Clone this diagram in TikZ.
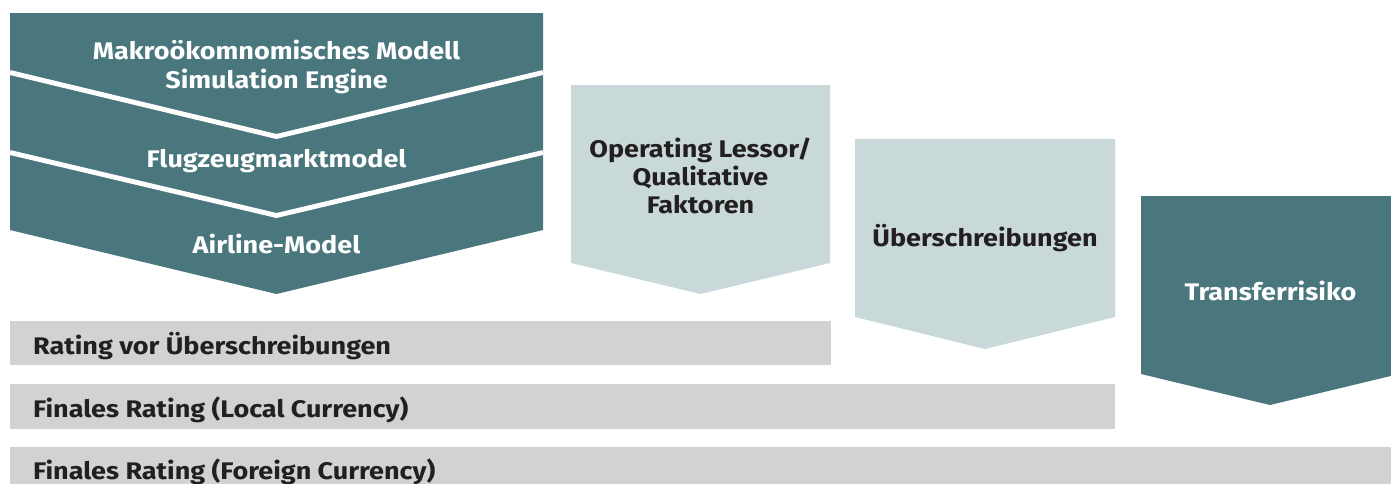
\documentclass[tikz,border=0pt]{standalone}
\usepackage{fontspec}
\setmainfont[FakeStretch=1.125]{Fira Sans}
\begin{document}
\begin{tikzpicture}[x=1pt,y=-1pt,
  darkfill/.style={fill=tealdark},
  lightfill/.style={fill=teallight},
  barfill/.style={fill=bargray},
  sep/.style={draw=white,line width=4.9pt},
  lbl/.style={font=\bfseries\fontsize{24}{29}\selectfont,inner sep=0pt,anchor=base,align=center},
  darklbl/.style={lbl,text=white},
  lightlbl/.style={lbl,text=textdark},
  barlbl/.style={lbl,text=textdark,anchor=base west,align=left}]
\definecolor{tealdark}{HTML}{4A777D}
\definecolor{teallight}{HTML}{C9D9DA}
\definecolor{bargray}{HTML}{D1D2D4}
\definecolor{textdark}{HTML}{231F20}
\clip (0,0) rectangle (1391,483);

% model stack chevron with separators
\fill[darkfill] (10,13) -- (543,13) -- (543,230) -- (276.5,294) -- (10,230) -- cycle;
\draw[sep] (10,72.5) -- (276.5,136.5) -- (543,72.5);
\draw[sep] (10,152.5) -- (276.5,215.5) -- (543,152.5);

% adjustment chevrons
\fill[lightfill] (571,85) -- (830,85) -- (830,263) -- (700.5,294) -- (571,263) -- cycle;
\fill[lightfill] (855,139) -- (1115,139) -- (1115,317) -- (985,349) -- (855,317) -- cycle;
\fill[darkfill] (1141,196) -- (1399,196) -- (1399,374) -- (1270,405) -- (1141,374) -- cycle;

% rating bars
\fill[barfill] (10,321) rectangle (831,365);
\fill[barfill] (10,384) rectangle (1115,429);
\fill[barfill] (10,447) rectangle (1391,490);

% labels (multi-line labels sit on the baseline of their last line)
\node[darklbl] (makro) at (276.5,88.3) {Makroökomnomisches Modell\\Simulation Engine};
\node[darklbl] (flug) at (276.5,167.5) {Flugzeugmarktmodel};
\node[darklbl] (airline) at (276.5,253) {Airline-Model};
\node[lightlbl,font=\bfseries\fontsize{24}{28}\selectfont] (lessor) at (700.5,213.3) {Operating Lessor/\\Qualitative\\Faktoren};
\node[lightlbl] (ueber) at (985,246.5) {Überschreibungen};
\node[darklbl] (transfer) at (1270.5,300.5) {Transferrisiko};
\node[barlbl] (rvor) at (33,354.5) {Rating vor Überschreibungen};
\node[barlbl] (rlocal) at (33,417.5) {Finales Rating (Local Currency)};
\node[barlbl] (rforeign) at (33,479.5) {Finales Rating (Foreign Currency)};
\end{tikzpicture}
\end{document}
